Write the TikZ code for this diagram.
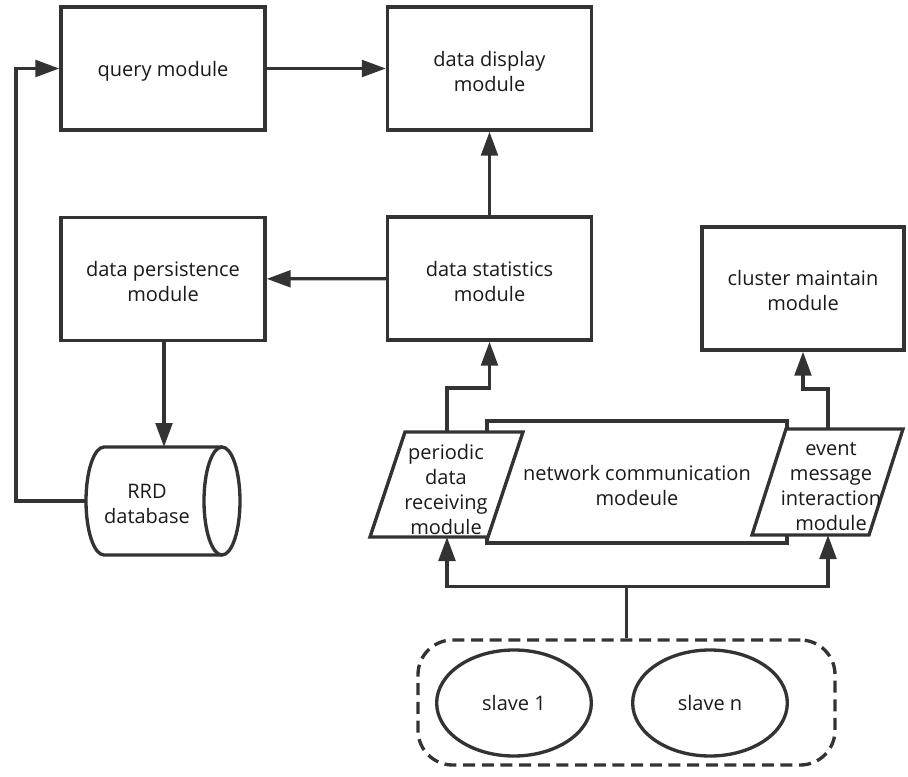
\documentclass[tikz,border=0pt]{standalone}
\usepackage{fontspec}
\setmainfont{Open Sans}
\usetikzlibrary{arrows.meta,shapes.geometric}

\definecolor{linegray}{HTML}{333333}
\definecolor{textgray}{HTML}{1A1A1A}

\begin{document}
\begin{tikzpicture}[x=0.75pt,y=-0.75pt,
  line/.style={draw=linegray, line width=2.5pt},
  arr/.style={line, -{Triangle[length=18pt,width=12.5pt]}},
  lbl/.style={text=textgray, font=\fontsize{15}{18.75}\selectfont, align=center, inner sep=0pt},
  mbox/.style={line, rectangle, fill=white, minimum width=153pt, minimum height=92.25pt, inner sep=0pt},
  slave/.style={line, lbl, ellipse, minimum width=116pt, minimum height=79.5pt},
]
\useasboundingbox (0,0) rectangle (908,776);

% module boxes, each with its label set a little below the box centre
\node[mbox] (query)   at (163,68.5)   {};
\node[lbl] (queryT) at (163,71) {query module};
\node[mbox] (display) at (489.5,68.5) {};
\node[lbl] (displayT) at (489.5,71) {data display\\module};
\node[mbox] (persist) at (163,279)    {};
\node[lbl] (persistT) at (163,281.5) {data persistence\\module};
\node[mbox] (stats)   at (489.5,278.5){};
\node[lbl] (statsT) at (489.5,281) {data statistics\\module};
\node[mbox, minimum width=151.5pt] (cluster) at (803,288.5) {};
\node[lbl] (clusterT) at (803,290) {cluster maintain\\module};

% network layer with the two interface modules in front
\node[line, fill=white, minimum width=225pt, minimum height=91.5pt, inner sep=0pt] (netbox) at (637,482) {};
\node[lbl] (network) at (637,485) {network communication\\modeule};

\draw[line, fill=white] (370,537) -- (405,432) -- (523,432) -- (488,537) -- cycle;
\node[lbl] (periodic) at (446,489) {periodic\\data\\receiving\\module};
\coordinate (pdT) at (447,432);
\coordinate (pdB) at (447,537);

\draw[line, fill=white] (752,535) -- (786,429) -- (903,429) -- (869,535) -- cycle;
\node[lbl] (event) at (831,486) {event\\message\\interaction\\module};
\coordinate (evT) at (828,429);
\coordinate (evB) at (828,535);

% RRD cylinder
\draw[line, fill=white] (222,447) -- (104,447)
  arc[start angle=90, end angle=270, x radius=13.5pt, y radius=40.5pt] -- (222,555);
\draw[line, fill=white] (222,501) ellipse [x radius=13.5pt, y radius=40.5pt];
\node[lbl] (rrd) at (147,504) {RRD\\database};
\coordinate (rrdW) at (86,501);
\coordinate (rrdN) at (164,447);

% slave group
\node[line, dash pattern=on 9pt off 5pt, rounded corners=26pt,
      minimum width=312.75pt, minimum height=93.75pt] (slaves) at (626.5,702.5) {};
\node[slave] (s1) at (514,703) {slave 1};
\node[slave] (sn) at (710,703) {slave n};

% connectors
\draw[arr] (query) -- (display);
\draw[arr] (stats) -- (display);
\draw[arr] (stats) -- (persist);
\draw[arr] (persist.south -| rrdN) -- (rrdN);
\draw[arr] (rrdW) -- ++(-70,0) |- (query.west);
\draw[arr] (pdT) -- ++(0,-44) -| (stats.south);
\draw[arr] (evT) -- ++(0,-40) -| (cluster.south);
\draw[line] (slaves.north) -- ++(0,-52) coordinate (junc);
\draw[arr] (junc) -| (pdB);
\draw[arr] (junc) -| (evB);
\end{tikzpicture}
\end{document}
